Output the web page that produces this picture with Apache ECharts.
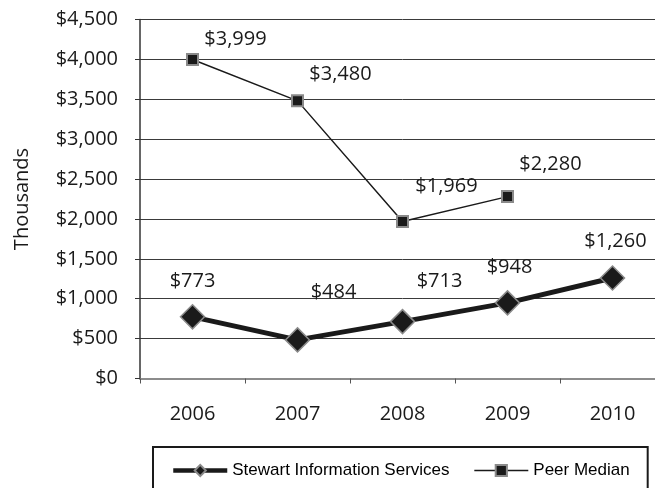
<!DOCTYPE html>
<html>
<head>
<meta charset="utf-8">
<script src="https://cdn.jsdelivr.net/npm/echarts@6/dist/echarts.min.js"></script>
<style>
html,body{margin:0;padding:0;background:#fff;overflow:hidden;width:655px;height:488px;}
#chart{width:665px;height:488px;}
</style>
</head>
<body>
<div id="chart"></div>
<script>
const categories = ['2006', '2007', '2008', '2009', '2010'];
const stewartValues = [773, 484, 713, 948, 1260];
const peerValues = [3999, 3480, 1969, 2280, null];
const yTicks = [0, 500, 1000, 1500, 2000, 2500, 3000, 3500, 4000, 4500];

// label placement (text centre relative to the marker), kept apart from data
const stewartLabelOffsets = [[0, -36], [36, -48], [37, -40], [2, -36], [3, -37]];
const peerLabelOffsets = [[43, -20], [43, -27], [44, -35], [43, -32], [0, 0]];

function money(v) {
  return '$' + Math.round(v).toString().replace(/\B(?=(\d{3})+(?!\d))/g, ',');
}

const labelFont = { fontFamily: 'Open Sans', fontSize: 20, color: '#1a1a1a' };

function buildData(values, offsets) {
  return values.map((v, i) => ({
    value: v,
    label: { offset: offsets[i] }
  }));
}

const chart = echarts.init(document.getElementById('chart'), null, { renderer: 'canvas' });
chart.setOption({
  animation: false,
  backgroundColor: '#ffffff',
  grid: { left: 140, right: 0, top: 19.5, height: 359, containLabel: false },
  xAxis: {
    type: 'category',
    data: categories,
    boundaryGap: true,
    axisLine: { show: true, lineStyle: { color: '#8c8c8c', width: 2 } },
    axisTick: { show: true, length: 5, inside: false, lineStyle: { color: '#555', width: 1 } },
    axisLabel: { margin: 26, ...labelFont, color: '#1a1a1a' },
    splitLine: { show: false }
  },
  yAxis: {
    type: 'value',
    min: yTicks[0],
    max: yTicks[yTicks.length - 1],
    interval: yTicks[1] - yTicks[0],
    name: 'Thousands',
    nameLocation: 'middle',
    nameRotate: 90,
    nameGap: 108,
    nameTextStyle: { fontFamily: 'Open Sans', fontSize: 20, color: '#1a1a1a' },
    axisLine: { show: true, lineStyle: { color: '#333', width: 1.5 } },
    axisTick: { show: true, length: 5, inside: false, lineStyle: { color: '#333', width: 1 } },
    axisLabel: { margin: 22, formatter: money, ...labelFont, color: '#1a1a1a' },
    splitLine: { show: true, lineStyle: { color: '#3a3a3a', width: 1 } }
  },
  legend: {
    left: 153,
    top: 447,
    orient: 'horizontal',
    itemWidth: 54,
    itemHeight: 14,
    itemGap: 24,
    padding: [15, 18, 15, 18],
    borderColor: '#1a1a1a',
    borderWidth: 2,
    textStyle: { fontFamily: 'Liberation Sans', fontSize: 17, color: '#000' },
    data: [
      { name: 'Stewart Information Services', lineStyle: { width: 4.5 } },
      { name: 'Peer Median', lineStyle: { width: 1.5 } }
    ]
  },
  series: [
    {
      name: 'Stewart Information Services',
      type: 'line',
      data: buildData(stewartValues, stewartLabelOffsets),
      symbol: 'diamond',
      symbolSize: 24,
      lineStyle: { color: '#1a1a1a', width: 5 },
      itemStyle: { color: '#1a1a1a', borderColor: '#8a8a8a', borderWidth: 1.5 },
      label: { show: true, position: 'inside', formatter: p => money(p.value), ...labelFont },
      z: 3
    },
    {
      name: 'Peer Median',
      type: 'line',
      data: buildData(peerValues, peerLabelOffsets),
      connectNulls: false,
      symbol: 'rect',
      symbolSize: 11,
      lineStyle: { color: '#1a1a1a', width: 1.5 },
      itemStyle: { color: '#1a1a1a', borderColor: '#8a8a8a', borderWidth: 2 },
      label: { show: true, position: 'inside', formatter: p => (p.value == null ? '' : money(p.value)), ...labelFont },
      z: 2
    }
  ]
});
</script>
</body>
</html>
